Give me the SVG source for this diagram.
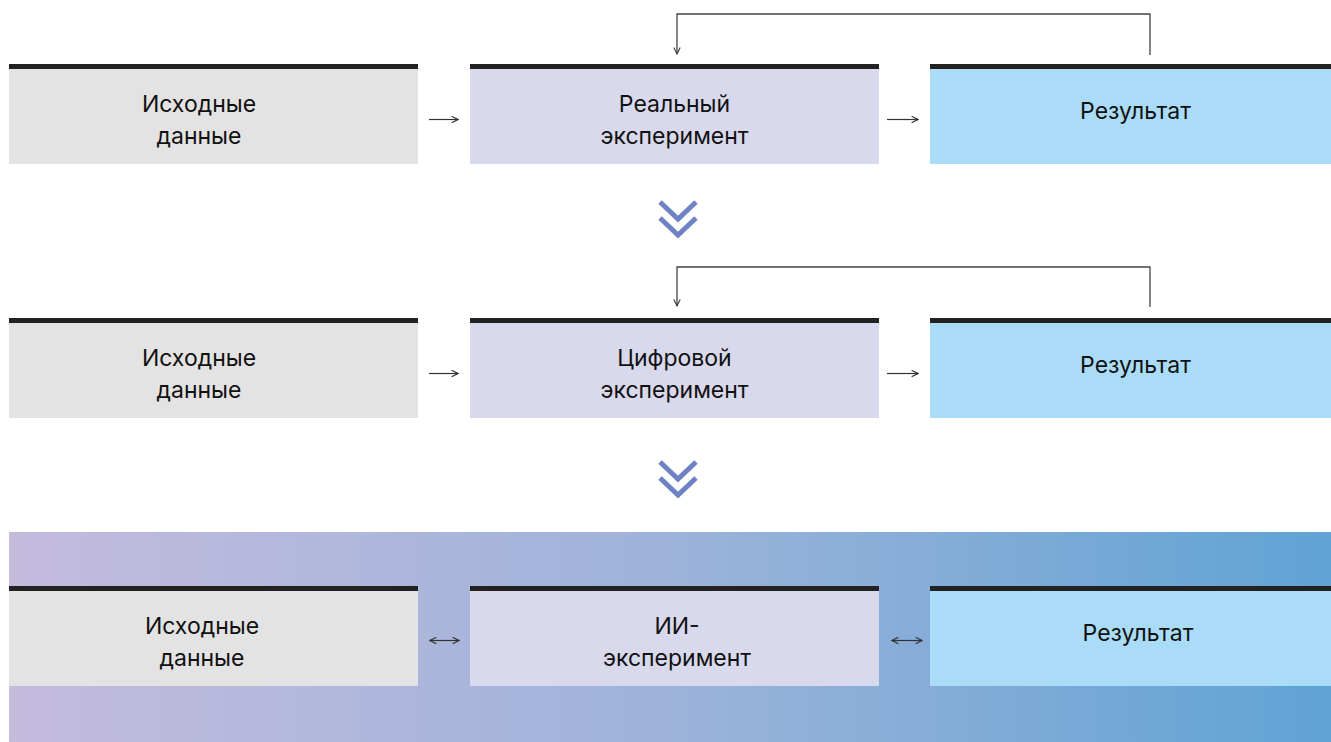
<svg xmlns="http://www.w3.org/2000/svg" width="1331" height="742" viewBox="0 0 1331 742">
<defs>
<linearGradient id="band" x1="0" y1="0" x2="1" y2="0">
<stop offset="0" stop-color="#c4bbdd"/>
<stop offset="0.5" stop-color="#9db3da"/>
<stop offset="1" stop-color="#60a3d4"/>
</linearGradient>
<marker id="ah" viewBox="0 0 10 10" refX="9" refY="5" markerWidth="8" markerHeight="8" markerUnits="userSpaceOnUse" orient="auto-start-reverse">
<path d="M1,1 L9,5 L1,9" fill="none" stroke="#333" stroke-width="1.3"/>
</marker>
<marker id="ahs" viewBox="0 0 10 10" refX="9" refY="5" markerWidth="8" markerHeight="8" markerUnits="userSpaceOnUse" orient="auto-start-reverse">
<path d="M1,1 L9,5 L1,9" fill="none" stroke="#333" stroke-width="1.4"/>
</marker>
</defs>
<style>
.bar{fill:#222}
.b1{fill:#e3e3e3}
.b2{fill:#d9d9ee}
.b3{fill:#aadcf7}
.t{font-family:Inter,"Liberation Sans",Arial,sans-serif;font-size:23px;fill:#111;text-anchor:middle}
.ln{fill:none;stroke:#444;stroke-width:1.3}
.ar{fill:none;stroke:#333;stroke-width:1.2}
.chev{fill:none;stroke:#6f82c4;stroke-width:5}
</style>
<rect x="9" y="532" width="1322" height="210" fill="url(#band)"/>

<g id="r1-input"><rect class="b1" x="9" y="68" width="409" height="96"/><rect class="bar" x="9" y="64" width="409" height="5"/><text class="t" x="199" y="112">Исходные</text><text class="t" x="199" y="144">данные</text></g>
<g id="r1-exp"><rect class="b2" x="470" y="68" width="409" height="96"/><rect class="bar" x="470" y="64" width="409" height="5"/><text class="t" x="674.5" y="112">Реальный</text><text class="t" x="674.5" y="144">эксперимент</text></g>
<g id="r1-res"><rect class="b3" x="930" y="68" width="401" height="96"/><rect class="bar" x="930" y="64" width="401" height="5"/><text class="t" x="1135.5" y="119">Результат</text></g>

<g id="r2-input"><rect class="b1" x="9" y="322" width="409" height="96"/><rect class="bar" x="9" y="318" width="409" height="5"/><text class="t" x="199" y="366">Исходные</text><text class="t" x="199" y="398">данные</text></g>
<g id="r2-exp"><rect class="b2" x="470" y="322" width="409" height="96"/><rect class="bar" x="470" y="318" width="409" height="5"/><text class="t" x="674.5" y="366">Цифровой</text><text class="t" x="674.5" y="398">эксперимент</text></g>
<g id="r2-res"><rect class="b3" x="930" y="322" width="401" height="96"/><rect class="bar" x="930" y="318" width="401" height="5"/><text class="t" x="1135.5" y="373">Результат</text></g>

<g id="r3-input"><rect class="b1" x="9" y="590" width="409" height="96"/><rect class="bar" x="9" y="586" width="409" height="5"/><text class="t" x="202" y="634">Исходные</text><text class="t" x="202" y="666">данные</text></g>
<g id="r3-exp"><rect class="b2" x="470" y="590" width="409" height="96"/><rect class="bar" x="470" y="586" width="409" height="5"/><text class="t" x="677" y="634">ИИ-</text><text class="t" x="677" y="666">эксперимент</text></g>
<g id="r3-res"><rect class="b3" x="930" y="590" width="401" height="96"/><rect class="bar" x="930" y="586" width="401" height="5"/><text class="t" x="1138" y="641">Результат</text></g>

<g id="connectors">
<path class="ln" d="M1150,55 V14 H677 V54" marker-end="url(#ah)"/>
<path class="ln" d="M1150,307 V267 H677 V306" marker-end="url(#ah)"/>
<line class="ar" x1="429" y1="119.5" x2="458" y2="119.5" marker-end="url(#ahs)"/>
<line class="ar" x1="887" y1="119.5" x2="918" y2="119.5" marker-end="url(#ahs)"/>
<line class="ar" x1="429" y1="373.5" x2="458" y2="373.5" marker-end="url(#ahs)"/>
<line class="ar" x1="887" y1="373.5" x2="918" y2="373.5" marker-end="url(#ahs)"/>
<line class="ar" x1="430" y1="640.5" x2="459" y2="640.5" marker-start="url(#ahs)" marker-end="url(#ahs)"/>
<line class="ar" x1="892" y1="640.5" x2="922" y2="640.5" marker-start="url(#ahs)" marker-end="url(#ahs)"/>
</g>
<g id="chevrons">
<path class="chev" d="M660,202 L678,219 L696,202 M660,218 L678,235 L696,218"/>
<path class="chev" d="M660,462 L678,479 L696,462 M660,478 L678,495 L696,478"/>
</g>
</svg>
